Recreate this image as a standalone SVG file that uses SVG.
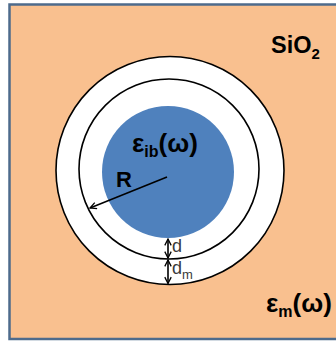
<svg xmlns="http://www.w3.org/2000/svg" width="336" height="342" viewBox="0 0 336 342">
  <style>
    .lbl { font-family: "Liberation Sans", Arial, sans-serif; font-weight: bold; fill: #000; }
    .dim { font-family: "Liberation Sans", Arial, sans-serif; fill: #3a3a3a; font-size: 18px; }
    .ring { fill: #fff; stroke: #000; stroke-width: 1.6; }
    .conn { stroke: #000; stroke-width: 1.6; fill: none; }
  </style>
  <defs>
    <marker id="open" viewBox="0 0 10 10" refX="9" refY="5" markerWidth="8" markerHeight="8" orient="auto-start-reverse" markerUnits="userSpaceOnUse">
      <path d="M1,1 L9,5 L1,9" fill="none" stroke="#000" stroke-width="1.6"/>
    </marker>
  </defs>
  <g id="background">
    <rect x="9.5" y="4.5" width="340" height="334.5" fill="#F9C08F" stroke="#4E6B8C" stroke-width="2.5"/>
  </g>
  <g id="outer-shell">
    <circle class="ring" cx="170" cy="170.5" r="114"/>
  </g>
  <g id="inner-shell">
    <circle class="ring" cx="169" cy="169" r="90"/>
  </g>
  <g id="core">
    <circle cx="168" cy="172" r="66" fill="#4F81BD"/>
  </g>
  <g id="connectors">
    <line class="conn" x1="167" y1="177" x2="90" y2="208" marker-end="url(#open)"/>
    <line class="conn" x1="168" y1="239" x2="168" y2="258" marker-start="url(#open)" marker-end="url(#open)"/>
    <line class="conn" x1="168" y1="260" x2="168" y2="283.5" marker-start="url(#open)" marker-end="url(#open)"/>
  </g>
  <g id="labels">
    <text class="lbl" x="271" y="53" font-size="23.5">SiO<tspan font-size="15" dy="6">2</tspan></text>
    <text class="lbl" x="132" y="152" font-size="26">ε<tspan font-size="16" dy="5">ib</tspan><tspan dy="-5">(ω)</tspan></text>
    <text class="lbl" x="116" y="187" font-size="22">R</text>
    <text class="dim" x="172" y="252">d</text>
    <text class="dim" x="172" y="274">d<tspan font-size="13" dy="5">m</tspan></text>
    <text class="lbl" x="266" y="312" font-size="26">ε<tspan font-size="16" dy="5">m</tspan><tspan dy="-5">(ω)</tspan></text>
  </g>
</svg>
